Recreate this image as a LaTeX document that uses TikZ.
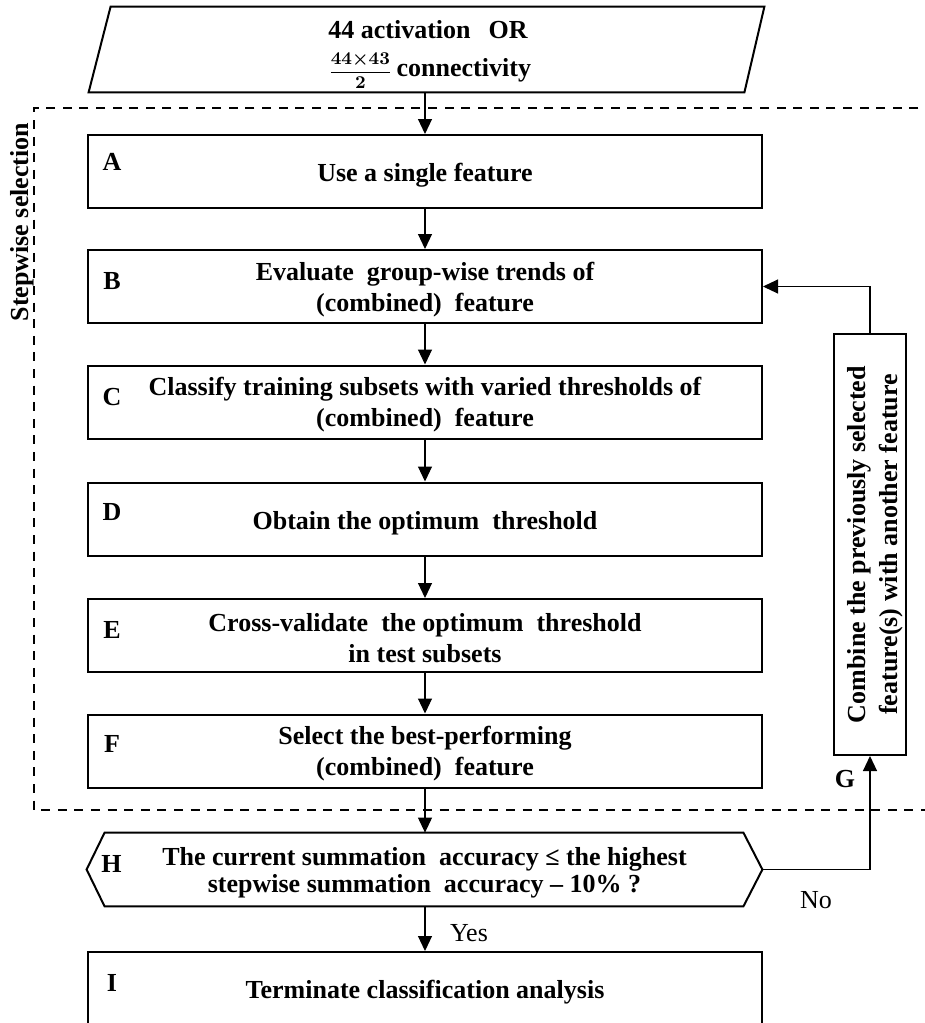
\documentclass[tikz,border=0pt]{standalone}
\usepackage{fontspec}
\setmainfont{Liberation Serif}
\usetikzlibrary{arrows.meta}
\begin{document}
\begin{tikzpicture}[x=0.5pt,y=-0.5pt,
  font=\fontsize{13}{15.5}\selectfont\bfseries,
  stepbox/.style={draw, line width=1pt, minimum width=337pt, minimum height=36.5pt, inner sep=0pt},
  boxtext/.style={inner sep=0pt, align=center},
  shapeless/.style={inner sep=0pt, align=center},
  letter/.style={font=\fontsize{13}{15.5}\selectfont\bfseries},
  plain/.style={font=\fontsize{13}{15.5}\selectfont\mdseries},
  arr/.style={-{Triangle[length=7.5pt,width=7pt]}, line width=0.55pt},
  outline/.style={line width=1pt},
  frame/.style={dash pattern=on 4.5pt off 3.8pt, line width=1pt}]
\useasboundingbox (0,0) rectangle (925,1023);
\clip (0,0) rectangle (925,1023);

% input parallelogram
\node[shapeless, minimum width=337.5pt, minimum height=42.5pt] (P) at (426.5,49.5) {};
\draw[outline] ([xshift=11pt]P.north west) -- (P.north east) -- ([xshift=-10pt]P.south east) -- (P.south west) -- cycle;
\node[boxtext, anchor=north west, align=left] (tP) at (328,20)
  {44 activation\hspace{9pt}OR\\[3.5pt]{\fontsize{9}{10}\selectfont\boldmath$\displaystyle\frac{44{\times}43}{2}$}\,connectivity};

% dashed frame
\coordinate (fa) at (935,108);
\coordinate (fb) at (34,108);
\coordinate (fc) at (34,810);
\coordinate (fd) at (935,810);
\draw[frame] (fa) -- (fb) -- (fc) -- (fd);
\node[rotate=90] (SS) at (22,222) {Stepwise selection};

% steps
\node[stepbox] (A) at (425,171.5) {};
\node[stepbox] (B) at (425,286.5) {};
\node[stepbox] (C) at (425,402) {};
\node[stepbox] (D) at (425,519) {};
\node[stepbox] (E) at (425,635.5) {};
\node[stepbox] (F) at (425,751) {};
\node[stepbox] (I) at (425,988.5) {};

\node[boxtext] (tA) at ([yshift=-2pt]A.center) {Use a single feature};
\node[boxtext] (tB) at ([yshift=-1.5pt]B.center) {Evaluate\ \ group-wise trends of\\(combined)\ \ feature};
\node[boxtext] (tC) at ([yshift=-1.5pt]C.center) {Classify training subsets with varied thresholds of\\(combined)\ \ feature};
\node[boxtext] (tD) at ([yshift=-2pt]D.center) {Obtain\ the optimum\ \ threshold};
\node[boxtext] (tE) at ([yshift=-1.5pt]E.center) {Cross-validate\ \ the optimum\ \ threshold\\in test subsets};
\node[boxtext] (tF) at ([yshift=-1.5pt]F.center) {Select the best-performing\\(combined)\ \ feature};
\node[boxtext] (tI) at ([yshift=-2pt]I.center) {Terminate classification analysis};

\node[letter] (lA) at ([xshift=12.5pt,yshift=5pt]A.west) {A};
\node[letter] (lB) at ([xshift=12.5pt,yshift=2.5pt]B.west) {B};
\node[letter] (lC) at ([xshift=12.5pt,yshift=2.5pt]C.west) {C};
\node[letter] (lD) at ([xshift=12.5pt,yshift=3.5pt]D.west) {D};
\node[letter] (lE) at ([xshift=12.5pt,yshift=3pt]E.west) {E};
\node[letter] (lF) at ([xshift=12.5pt,yshift=3.5pt]F.west) {F};
\node[letter] (lI) at ([xshift=12.5pt,yshift=3pt]I.west) {I};

% decision hexagon
\node[shapeless, minimum width=337.5pt, minimum height=36.5pt] (H) at (424.5,869.5) {};
\draw[outline] ([xshift=9pt]H.north west) -- ([xshift=-9.5pt]H.north east) -- (H.east) -- ([xshift=-9.5pt]H.south east) -- ([xshift=9pt]H.south west) -- (H.west) -- cycle;
\node[boxtext, font=\fontsize{13}{13.5}\selectfont\bfseries] (tH) at ([yshift=-1.5pt]H.center)
  {The current summation\ \ accuracy ≤ the highest\\stepwise summation\ \ accuracy – 10\% ?};
\node[letter] (lH) at ([xshift=12.5pt,yshift=3pt]H.west) {H};

% combine box
\node[draw, line width=1pt, minimum width=36pt, minimum height=210.5pt, inner sep=0pt] (G) at (870,544.5) {};
\node[inner sep=0pt] (tG) at ([xshift=2.5pt]G.center)
  {\rotatebox{90}{\fontsize{13}{16}\selectfont\bfseries\begin{tabular}{@{}c@{}}Combine\ the\ previously\ selected\\feature(s) with another\ feature\end{tabular}}};
\node[letter] (lG) at (845,779) {G};

% connectors
\draw[arr] (P.south -| A.north) -- (A.north);
\draw[arr] (A.south) -- (B.north);
\draw[arr] (B.south) -- (C.north);
\draw[arr] (C.south) -- (D.north);
\draw[arr] (D.south) -- (E.north);
\draw[arr] (E.south) -- (F.north);
\draw[arr] (F.south) -- (F.south |- H.north);
\draw[arr] (H.south -| I.north) -- (I.north);
\draw[arr] (H.east) -| (G.south);
\draw[arr] (G.north) |- (B.east);

\node[plain, anchor=west] (yes) at (443,933) {Yes};
\node[plain] (no) at (816,900) {No};
\end{tikzpicture}
\end{document}
